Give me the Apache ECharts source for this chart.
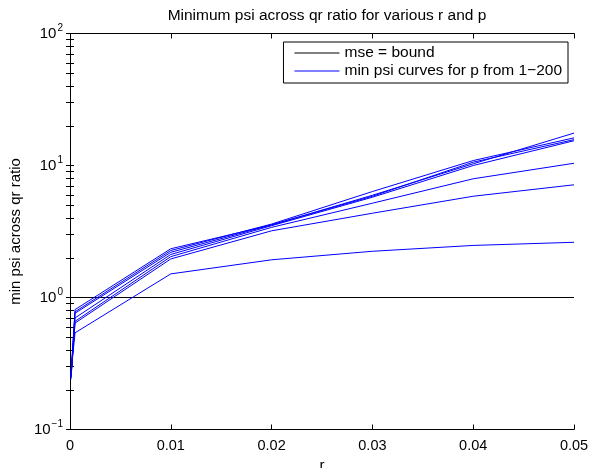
<!DOCTYPE html>
<html>
<head>
<meta charset="utf-8">
<script src="https://cdn.jsdelivr.net/npm/echarts@6/dist/echarts.min.js"></script>
<style>html,body{margin:0;padding:0;background:#fff}#c{width:595px;height:468px}</style>
</head>
<body>
<div id="c"></div>
<script>
const rValues = [0.0001, 0.0005, 0.01, 0.02, 0.03, 0.04, 0.05];
const curve1 = [0.26, 0.81, 2.34, 3.55, 5.95, 10.3, 17.6];
const curve2 = [0.25, 0.78, 2.27, 3.60, 6.35, 10.9, 16.2];
const curve3 = [0.25, 0.76, 2.20, 3.55, 5.85, 10.6, 15.7];
const curve4 = [0.24, 0.70, 2.12, 3.50, 5.75, 10.0, 15.4];
const curve5 = [0.25, 0.66, 2.04, 3.40, 5.18, 7.93, 10.4];
const curve6 = [0.26, 0.64, 1.96, 3.20, 4.35, 5.85, 7.14];
const curve7 = [0.27, 0.54, 1.51, 1.93, 2.24, 2.48, 2.62];
const boundX = [0, 0.05];
const boundY = [1, 1];
const yMajorTicks = [0.1, 1, 10, 100];
const xTicks = [0, 0.01, 0.02, 0.03, 0.04, 0.05];

const curves = [curve1, curve2, curve3, curve4, curve5, curve6, curve7];
const yMinorTicks = [];
for (let e = -1; e < 2; e++) { for (let k = 1; k < 10; k++) yMinorTicks.push(+(k * Math.pow(10, e)).toPrecision(3)); }
yMinorTicks.push(100);

const FONT = 'Liberation Sans, Arial, Helvetica, sans-serif';
const blueName = 'min psi curves for p from 1\u2212200';

const series = [{
  name: 'mse = bound', type: 'line', symbol: 'none', silent: true,
  data: boundX.map((x, i) => [x, boundY[i]]),
  lineStyle: { color: '#000', width: 1 }, itemStyle: { color: '#000' }
}];
curves.forEach(c => {
  series.push({
    name: blueName, type: 'line', symbol: 'none', silent: true,
    data: rValues.map((x, i) => [x, c[i]]),
    lineStyle: { color: '#0000ff', width: 1 }, itemStyle: { color: '#0000ff' }
  });
});

const supFmt = v => {
  const e = Math.round(Math.log10(v));
  return '{b|10}{s|' + (e < 0 ? '\u2212' + (-e) : e) + '}';
};
const axisCommon = {
  axisLine: { show: true, lineStyle: { color: '#000', width: 1 } },
  splitLine: { show: false }
};

const chart = echarts.init(document.getElementById('c'), null, { renderer: 'canvas' });
chart.setOption({
  backgroundColor: '#fff',
  animation: false,
  textStyle: { fontFamily: FONT },
  title: {
    text: 'Minimum psi across qr ratio for various r and p',
    left: 322, top: 3, textAlign: 'center',
    textStyle: { fontSize: 15.5, fontWeight: 'normal', color: '#000', fontFamily: FONT }
  },
  legend: {
    data: ['mse = bound', blueName],
    orient: 'vertical', right: 27, top: 42,
    backgroundColor: '#fff', borderColor: '#000', borderWidth: 1,
    padding: [2, 6, 3, 11], itemGap: 0, itemWidth: 45, itemHeight: 1,
    icon: 'rect',
    lineStyle: { width: 1 },
    textStyle: { fontSize: 15.5, lineHeight: 18, color: '#000', fontFamily: FONT },
    selectedMode: false
  },
  grid: { left: 70, right: 21, top: 33.5, bottom: 38.5, containLabel: false, outerBoundsMode: 'none' },
  xAxis: [
    Object.assign({
      type: 'value', min: 0, max: 0.05, interval: 0.01, position: 'bottom',
      name: 'r', nameLocation: 'middle', nameGap: 23,
      nameTextStyle: { fontSize: 15, color: '#000', fontFamily: FONT },
      axisTick: { show: true, inside: true, length: 5, lineStyle: { color: '#000' } },
      axisLabel: { color: '#000', fontSize: 14.5, margin: 9, fontFamily: FONT,
        formatter: v => v === 0 ? '0' : v.toFixed(2) }
    }, axisCommon),
    Object.assign({
      type: 'value', min: 0, max: 0.05, interval: 0.01, position: 'top',
      axisTick: { show: true, inside: true, length: 5, lineStyle: { color: '#000' } },
      axisLabel: { show: false }
    }, axisCommon)
  ],
  yAxis: [
    Object.assign({
      type: 'log', logBase: 10, min: 0.1, max: 100, position: 'left',
      name: 'min psi across qr ratio', nameLocation: 'middle', nameGap: 43, nameRotate: 90,
      nameTextStyle: { fontSize: 15, color: '#000', fontFamily: FONT },
      axisTick: { show: true, inside: true, length: 4, customValues: yMinorTicks, lineStyle: { color: '#000' } },
      axisLabel: { color: '#000', margin: 7, customValues: yMajorTicks, formatter: supFmt,
        rich: {
          b: { fontSize: 15, color: '#000', fontFamily: FONT },
          s: { fontSize: 10, color: '#000', fontFamily: FONT, padding: [0, 0, 10, 1] }
        } }
    }, axisCommon),
    Object.assign({
      type: 'log', logBase: 10, min: 0.1, max: 100, position: 'right',
      axisTick: { show: true, inside: true, length: 4, customValues: yMinorTicks, lineStyle: { color: '#000' } },
      axisLabel: { show: false }
    }, axisCommon)
  ],
  series: series
});
</script>
</body>
</html>
